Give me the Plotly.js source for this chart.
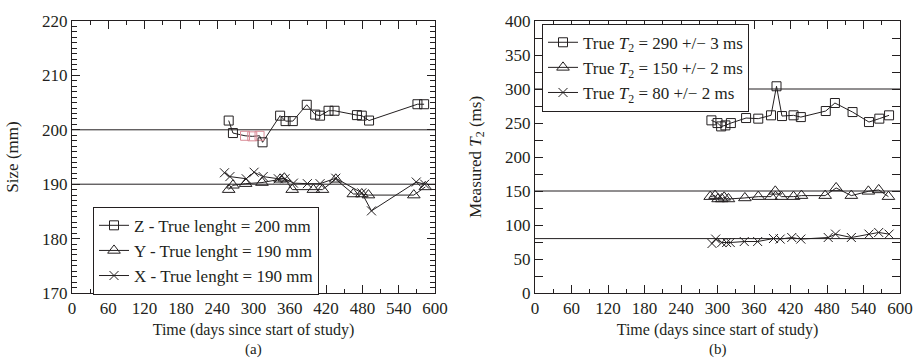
<!DOCTYPE html>
<html>
<head>
<meta charset="utf-8">
<script src="https://cdn.plot.ly/plotly-3.0.1.min.js"></script>
<style>html,body{margin:0;padding:0;background:#fff}#chart{width:915px;height:360px}</style>
</head>
<body>
<div id="chart"></div>
<script>
// ---------- Panel (a): size ----------
const zDays = [259, 266, 286, 298, 310, 315, 344, 353, 365, 388, 402, 410, 424, 434, 471, 479, 491, 571, 582];
const zSize = [201.7, 199.4, 198.9, 198.8, 198.9, 197.7, 202.6, 201.6, 201.6, 204.6, 202.8, 202.6, 203.5, 203.5, 202.7, 202.6, 201.7, 204.7, 204.7];
const zHighlight = [2, 3, 4];

const yDays = [259, 266, 287, 314, 344, 351, 364, 399, 414, 436, 465, 479, 490, 565, 584];
const ySize = [189.0, 189.8, 190.1, 190.3, 190.9, 191.1, 189.0, 189.0, 189.0, 190.9, 188.2, 188.2, 188.0, 188.0, 189.5];

const xDays = [252, 261, 288, 301, 316, 341, 352, 366, 389, 410, 436, 479, 495, 569, 583];
const xSize = [192.1, 191.4, 191.0, 192.2, 191.4, 191.0, 191.0, 190.2, 190.1, 190.1, 191.1, 188.4, 185.1, 190.4, 190.0];

const sizeNames = ["Z - True lenght = 200 mm", "Y - True lenght = 190 mm", "X - True lenght = 190 mm"];
const sizeRefs = [200, 190];

// ---------- Panel (b): T2 ----------
const t290Days = [290, 300, 306, 313, 322, 347, 367, 388, 397, 406, 425, 437, 478, 493, 522, 549, 566, 582];
const t290Vals = [253.9, 249.9, 245.0, 246.5, 249.9, 257.3, 256.4, 261.3, 304.0, 260.2, 261.3, 258.7, 267.6, 279.4, 266.1, 251.4, 256.4, 261.3];

const t150Days = [288, 296, 301, 307, 311, 318, 345, 367, 388, 395, 405, 425, 438, 477, 495, 520, 548, 565, 581];
const t150Vals = [141.7, 143.2, 138.3, 138.3, 140.7, 138.3, 139.8, 141.7, 141.7, 149.5, 141.7, 141.7, 143.2, 143.2, 154.5, 143.2, 149.5, 151.6, 141.7];

const t80Days = [291, 297, 307, 315, 321, 344, 366, 392, 403, 422, 437, 482, 494, 520, 549, 565, 582];
const t80Vals = [72.8, 79.3, 74.2, 74.2, 74.2, 75.7, 75.7, 80.1, 79.3, 81.6, 79.3, 81.6, 86.6, 81.6, 86.6, 89.0, 86.6];

const t2Names = ["True <i>T</i><sub>2</sub> = 290 +/\u2212 3 ms", "True <i>T</i><sub>2</sub> = 150 +/\u2212 2 ms", "True <i>T</i><sub>2</sub> = 80 +/\u2212 2 ms"];
const t2Refs = [300, 150, 80];

const xTicks = [0, 60, 120, 180, 240, 300, 360, 420, 480, 540, 600];

// ---------- styling ----------
const INK = "#231f20";
const FONT = "Liberation Serif, Times New Roman, serif";
const PINK = "#d98b95";
const FS = 17;

function series(x, y, name, symbol, size, xa, ya, legend, edge) {
  const c = edge || INK;
  return {
    x: x, y: y, name: name, type: "scatter", mode: "lines+markers",
    xaxis: xa, yaxis: ya, legend: legend,
    line: {color: INK, width: 1},
    marker: {symbol: symbol, size: size, color: c, line: {color: c, width: 1}}
  };
}

const zEdge = zDays.map((d, i) => zHighlight.includes(i) ? PINK : INK);

const traces = [
  series(zDays, zSize, sizeNames[0], "square-open", 9, "x", "y", "legend", zEdge),
  series(yDays, ySize, sizeNames[1], "triangle-up-open", 11, "x", "y", "legend"),
  series(xDays, xSize, sizeNames[2], "x-thin-open", 9, "x", "y", "legend"),
  series(t290Days, t290Vals, t2Names[0], "square-open", 9, "x2", "y2", "legend2"),
  series(t150Days, t150Vals, t2Names[1], "triangle-up-open", 11, "x2", "y2", "legend2"),
  series(t80Days, t80Vals, t2Names[2], "x-thin-open", 9, "x2", "y2", "legend2")
];

function xAxis(domain, anchor) {
  return {
    domain: domain, anchor: anchor, range: [0, 600],
    tickmode: "array", tickvals: xTicks, ticktext: xTicks.map(String),
    ticks: "inside", ticklen: 8, tickwidth: 1, tickcolor: INK,
    minor: {dtick: 30, tick0: 0, ticks: "inside", ticklen: 4, tickwidth: 1, tickcolor: INK},
    showline: true, linecolor: INK, linewidth: 1, mirror: "allticks",
    showgrid: false, zeroline: false,
    tickfont: {family: FONT, size: FS, color: INK},
    title: {text: "Time (days since start of study)", font: {family: FONT, size: 16, color: INK}, standoff: 6},
    automargin: false
  };
}

function yAxis(range, dtick, minorDtick, title, anchor, minorLen) {
  return {
    domain: [0, 1], anchor: anchor, range: range, dtick: dtick, tick0: 0,
    ticks: "inside", ticklen: 8, tickwidth: 1, tickcolor: INK,
    minor: {dtick: minorDtick, tick0: 0, ticks: "inside", ticklen: minorLen, tickwidth: 1, tickcolor: INK},
    showline: true, linecolor: INK, linewidth: 1, mirror: "allticks",
    showgrid: false, zeroline: false,
    tickfont: {family: FONT, size: FS, color: INK},
    title: {text: title, font: {family: FONT, size: FS, color: INK}, standoff: 19},
    automargin: false
  };
}

const shapes = [];
sizeRefs.forEach(v => shapes.push({type: "line", xref: "x domain", yref: "y", x0: 0, x1: 1, y0: v, y1: v, line: {color: INK, width: 1}, layer: "below"}));
t2Refs.forEach(v => shapes.push({type: "line", xref: "x2 domain", yref: "y2", x0: 0, x1: 1, y0: v, y1: v, line: {color: INK, width: 1}, layer: "below"}));

const legendStyle = {
  bgcolor: "#ffffff", bordercolor: INK, borderwidth: 1,
  font: {family: FONT, size: FS, color: INK},
  tracegroupgap: 0, itemwidth: 30
};

const layout = {
  width: 915, height: 360,
  margin: {l: 0, r: 0, t: 21, b: 67},
  paper_bgcolor: "#ffffff", plot_bgcolor: "#ffffff",
  showlegend: true,
  xaxis: xAxis([72 / 915, 435 / 915], "y"),
  yaxis: yAxis([170, 220], 10, 1, "Size (mm)", "x", 5),
  xaxis2: xAxis([535 / 915, 900 / 915], "y2"),
  yaxis2: yAxis([0, 400], 50, 25, "Measured <i>T</i><sub>2</sub> (ms)", "x2", 8),
  legend: Object.assign({x: 93 / 915, y: 0.317, xanchor: "left", yanchor: "top"}, legendStyle),
  legend2: Object.assign({x: 542 / 915, y: 0.99, xanchor: "left", yanchor: "top"}, legendStyle),
  shapes: shapes,
  annotations: [
    {text: "(a)", xref: "paper", yref: "paper", x: (72 + 435) / 2 / 915, y: -0.247, showarrow: false, xanchor: "center", yanchor: "bottom", font: {family: FONT, size: 15, color: INK}},
    {text: "(b)", xref: "paper", yref: "paper", x: (535 + 900) / 2 / 915, y: -0.247, showarrow: false, xanchor: "center", yanchor: "bottom", font: {family: FONT, size: 15, color: INK}}
  ]
};

Plotly.newPlot("chart", traces, layout, {displayModeBar: false, staticPlot: true});
</script>
</body>
</html>
